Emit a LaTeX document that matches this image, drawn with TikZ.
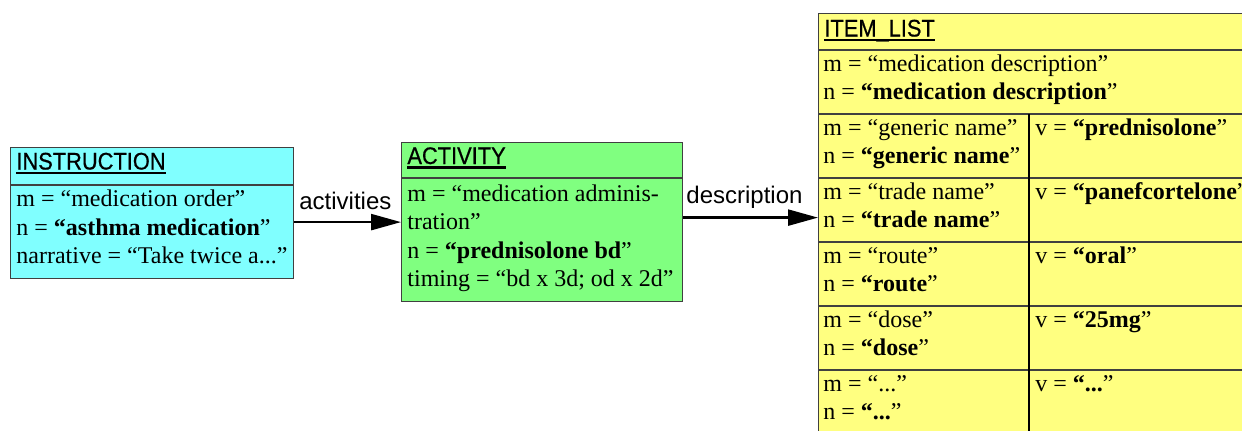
\documentclass[tikz,border=0pt]{standalone}
\usepackage{fontspec}
\setmainfont{Liberation Serif}
\newfontfamily\titlefont[FakeStretch=0.91,FakeBold=0.6]{Liberation Sans}
\newfontfamily\labelfont{Liberation Sans}
\usetikzlibrary{arrows.meta}
\definecolor{instrcol}{RGB}{128,255,255}
\definecolor{actcol}{RGB}{128,255,128}
\definecolor{itemcol}{RGB}{255,255,128}
\definecolor{edgecol}{RGB}{64,64,64}
\newcommand\mydots{...}
\begin{document}
\begin{tikzpicture}[x=0.5pt,y=-0.5pt,
  txt/.style={anchor=base west, inner sep=0pt, font=\fontsize{12}{14.5}\selectfont},
  ttl/.style={anchor=base west, inner sep=0pt, font=\titlefont\fontsize{12}{14.5}\selectfont},
  lbl/.style={anchor=base west, inner sep=0pt, font=\labelfont\fontsize{12}{14.5}\selectfont},
  classbox/.style={draw=edgecol, line width=0.6pt, inner sep=0pt, anchor=north west},
  sepline/.style={draw=edgecol, line width=0.6pt},
  divline/.style={draw=black, line width=1pt},
  uline/.style={draw=black, line width=1.2pt},
  arr/.style={line width=1.2pt, -{Triangle[length=15pt,width=8pt]}}]
\useasboundingbox (0,0) rectangle (1242,430);
\clip (0,0) rectangle (1242,430);

% ---------- INSTRUCTION ----------
\node[classbox, fill=instrcol, minimum width=141.5pt, minimum height=65.5pt] (instr) at (10,147) {};
\draw[sepline] (10,185) -- (292.5,185);
\node[ttl] (instrT) at (16,169.5) {INSTRUCTION};
\draw[uline] ([yshift=-1.7pt]instrT.base west) -- ([yshift=-1.7pt]instrT.base east);
\node[txt] (instrA) at (16,206.5) {m = “medication order”};
\node[txt] (instrB) at (16,235) {n = \textbf{“asthma medication}”};
\node[txt] (instrC) at (16,263.5) {narrative = “Take twice a...”};

% ---------- ACTIVITY ----------
\node[classbox, fill=actcol, minimum width=140.5pt, minimum height=79.5pt] (act) at (401,142) {};
\draw[sepline] (401,178) -- (682,178);
\node[ttl] (actT) at (407,164) {ACTIVITY};
\draw[uline] ([yshift=-1.7pt]actT.base west) -- ([yshift=-1.7pt]actT.base east);
\node[txt] (actA) at (407,201) {m = “medication adminis-};
\node[txt] (actB) at (407,229.5) {tration”};
\node[txt] (actC) at (407,258) {n = \textbf{“prednisolone bd}”};
\node[txt] (actD) at (407,286.5) {timing = “bd x 3d; od x 2d”};

% ---------- ITEM_LIST ----------
\node[classbox, fill=itemcol, minimum width=226pt, minimum height=213.5pt] (item) at (818,13) {};
\draw[sepline] (818,50) -- (1270,50);
\node[ttl] (itemT) at (824,36.5) {ITEM\_LIST};
\draw[uline] ([yshift=-1.7pt]itemT.base west) -- ([yshift=-1.7pt]itemT.base east);
\node[txt] (r0m) at (823,71) {m = “medication description”};
\node[txt] (r0n) at (823,99.5) {n = \textbf{“medication description}”};
\foreach \y in {114,178,242,306,370,434} {\draw[sepline] (818,\y) -- (1270,\y);}
\draw[divline] (1029,114) -- (1029,440);
\foreach \i/\y/\mm/\vv in {1/114/generic name/prednisolone,
                           2/178/trade name/panefcortelone,
                           3/242/route/oral,
                           4/306/dose/25mg,
                           5/370/\mydots/\mydots} {
  \node[txt] (r\i m) at (823,\y+21) {m = “\mm”};
  \node[txt] (r\i n) at (823,\y+49.5) {n = \textbf{“\mm}”};
  \node[txt] (r\i v) at (1035,\y+21) {v = \textbf{“\vv}”};
}

% ---------- connectors ----------
\draw[arr] (instr.east |- act.west) -- (act.west);
\node[lbl] (lblA) at (299,209) {activities};
\coordinate (d0) at ([yshift=2.25pt]act.east);
\draw[arr] (d0) -- (d0 -| item.west);
\node[lbl] (lblD) at (686,203) {description};
\end{tikzpicture}
\end{document}
